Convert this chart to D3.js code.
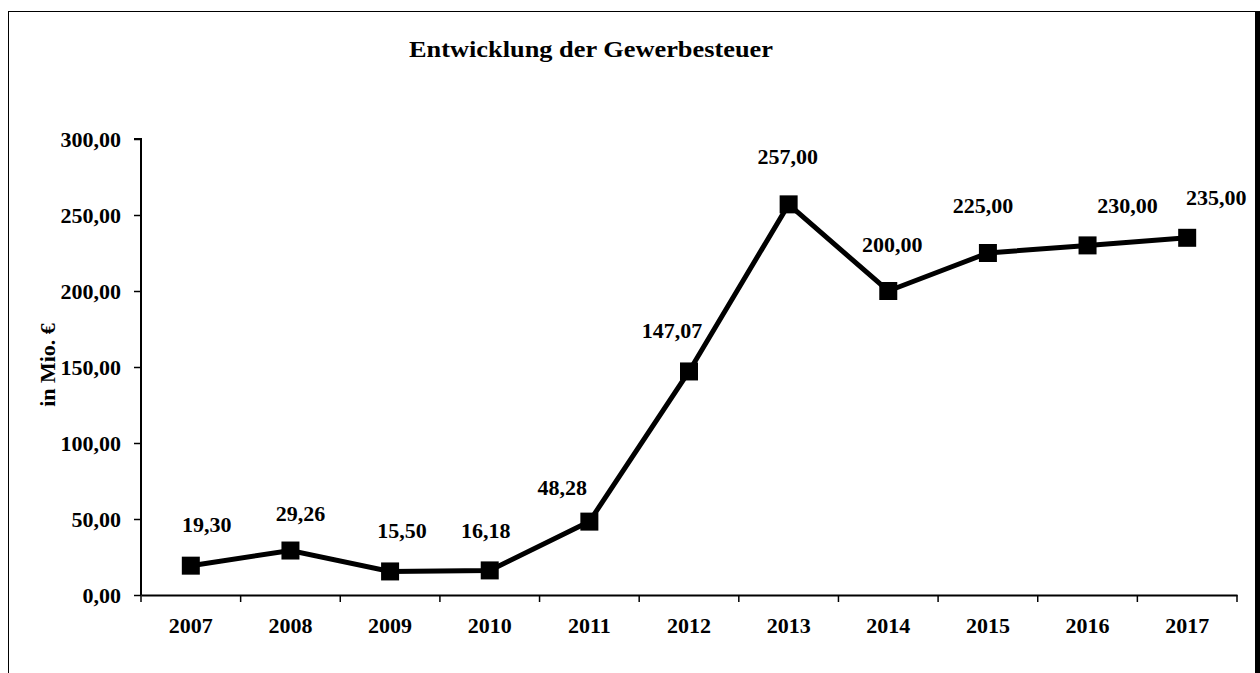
<!DOCTYPE html>
<html>
<head>
  <meta charset="utf-8">
  <title>Entwicklung der Gewerbesteuer</title>
  <script src="https://d3js.org/d3.v7.min.js"></script>
  <style>
    body { margin: 0; background: #fff; }
    text { font-family: "Liberation Serif", "Times New Roman", serif; font-weight: bold; fill: #000; }
  </style>
</head>
<body>
<svg width="1260" height="673"></svg>
<script>
// --- Daten ---
const jahre = ["2007","2008","2009","2010","2011","2012","2013","2014","2015","2016","2017"];
const werte = [19.30, 29.26, 15.50, 16.18, 48.28, 147.07, 257.00, 200.00, 225.00, 230.00, 235.00];
const yTicks = [0, 50, 100, 150, 200, 250, 300];
const titel = "Entwicklung der Gewerbesteuer";
const yTitel = "in Mio. €";

// Verschiebung der Datenbeschriftungen (wie in Excel manuell gesetzt)
const labelDx = [16, 10, 12, -4, -27, -17, -1, 4, -5, 40, 29];
const labelDy = [-34, -30, -33, -32, -27, -33, -40, -39, -40, -32, -33];

const svg = d3.select("svg");
const de = d3.formatLocale({decimal: ",", thousands: ".", grouping: [3], currency: ["", " €"]});
const fmt = de.format(".2f");
const fs = "22px";

// Rahmen
svg.append("rect").attr("x", 8.5).attr("y", 11.5).attr("width", 1250).attr("height", 700)
  .attr("fill", "none").attr("stroke", "#000").attr("stroke-width", 1);
svg.append("rect").attr("x", 1255).attr("y", 11).attr("width", 5).attr("height", 662).attr("fill", "#000");

const x = d3.scaleBand().domain(jahre).range([141, 1237]).padding(0);
const y = d3.scaleLinear().domain([0, 300]).range([595, 139]);

// Titel
svg.append("text").attr("x", 591).attr("y", 57).attr("text-anchor", "middle")
  .attr("textLength", 364).attr("lengthAdjust", "spacingAndGlyphs")
  .style("font-size", "24px").text(titel);

// Y-Achse
const yAxis = svg.append("g").attr("transform", "translate(141,0)")
  .call(d3.axisLeft(y).tickValues(yTicks).tickFormat(fmt).tickSize(7).tickPadding(13));
yAxis.attr("font-family", null);
yAxis.select(".domain").attr("d", `M-7,${y(300)}H0V${y(0)}`).attr("stroke", "#000").attr("stroke-width", 2);
yAxis.selectAll(".tick line").attr("stroke", "#000").attr("stroke-width", 1.5);
yAxis.selectAll(".tick text").style("font-size", fs).attr("dy", "0.35em");

svg.append("text").attr("transform", "translate(55,365) rotate(-90)")
  .attr("text-anchor", "middle").style("font-size", fs).text(yTitel);

// X-Achse
const xAxis = svg.append("g").attr("transform", `translate(0,${y(0)})`)
  .call(d3.axisBottom(x).tickSize(0).tickPadding(22));
xAxis.attr("font-family", null);
xAxis.select(".domain").attr("stroke", "#000").attr("stroke-width", 2);
xAxis.selectAll(".tick text").style("font-size", fs);
// Teilstriche zwischen den Kategorien
const grenzen = jahre.map(j => x(j)).concat([x(jahre[jahre.length - 1]) + x.bandwidth()]);
xAxis.selectAll(".grenze").data(grenzen).join("line").attr("class", "grenze")
  .attr("x1", d => d).attr("x2", d => d).attr("y1", 0).attr("y2", 7)
  .attr("stroke", "#000").attr("stroke-width", 1.5);

// Linie
const cx = j => x(j) + x.bandwidth() / 2;
const line = d3.line().x((d, i) => cx(jahre[i])).y(d => y(d));
svg.append("path").datum(werte).attr("d", line)
  .attr("fill", "none").attr("stroke", "#000").attr("stroke-width", 5).attr("stroke-linejoin", "miter");

// Marker
const m = 18;
svg.selectAll(".marker").data(werte).join("rect").attr("class", "marker")
  .attr("x", (d, i) => cx(jahre[i]) - m / 2).attr("y", d => y(d) - m / 2)
  .attr("width", m).attr("height", m).attr("fill", "#000");

// Datenbeschriftungen
svg.selectAll(".wert").data(werte).join("text").attr("class", "wert")
  .attr("x", (d, i) => cx(jahre[i]) + labelDx[i]).attr("y", (d, i) => y(d) + labelDy[i])
  .attr("text-anchor", "middle").style("font-size", fs).text(d => fmt(d));
</script>
</body>
</html>
